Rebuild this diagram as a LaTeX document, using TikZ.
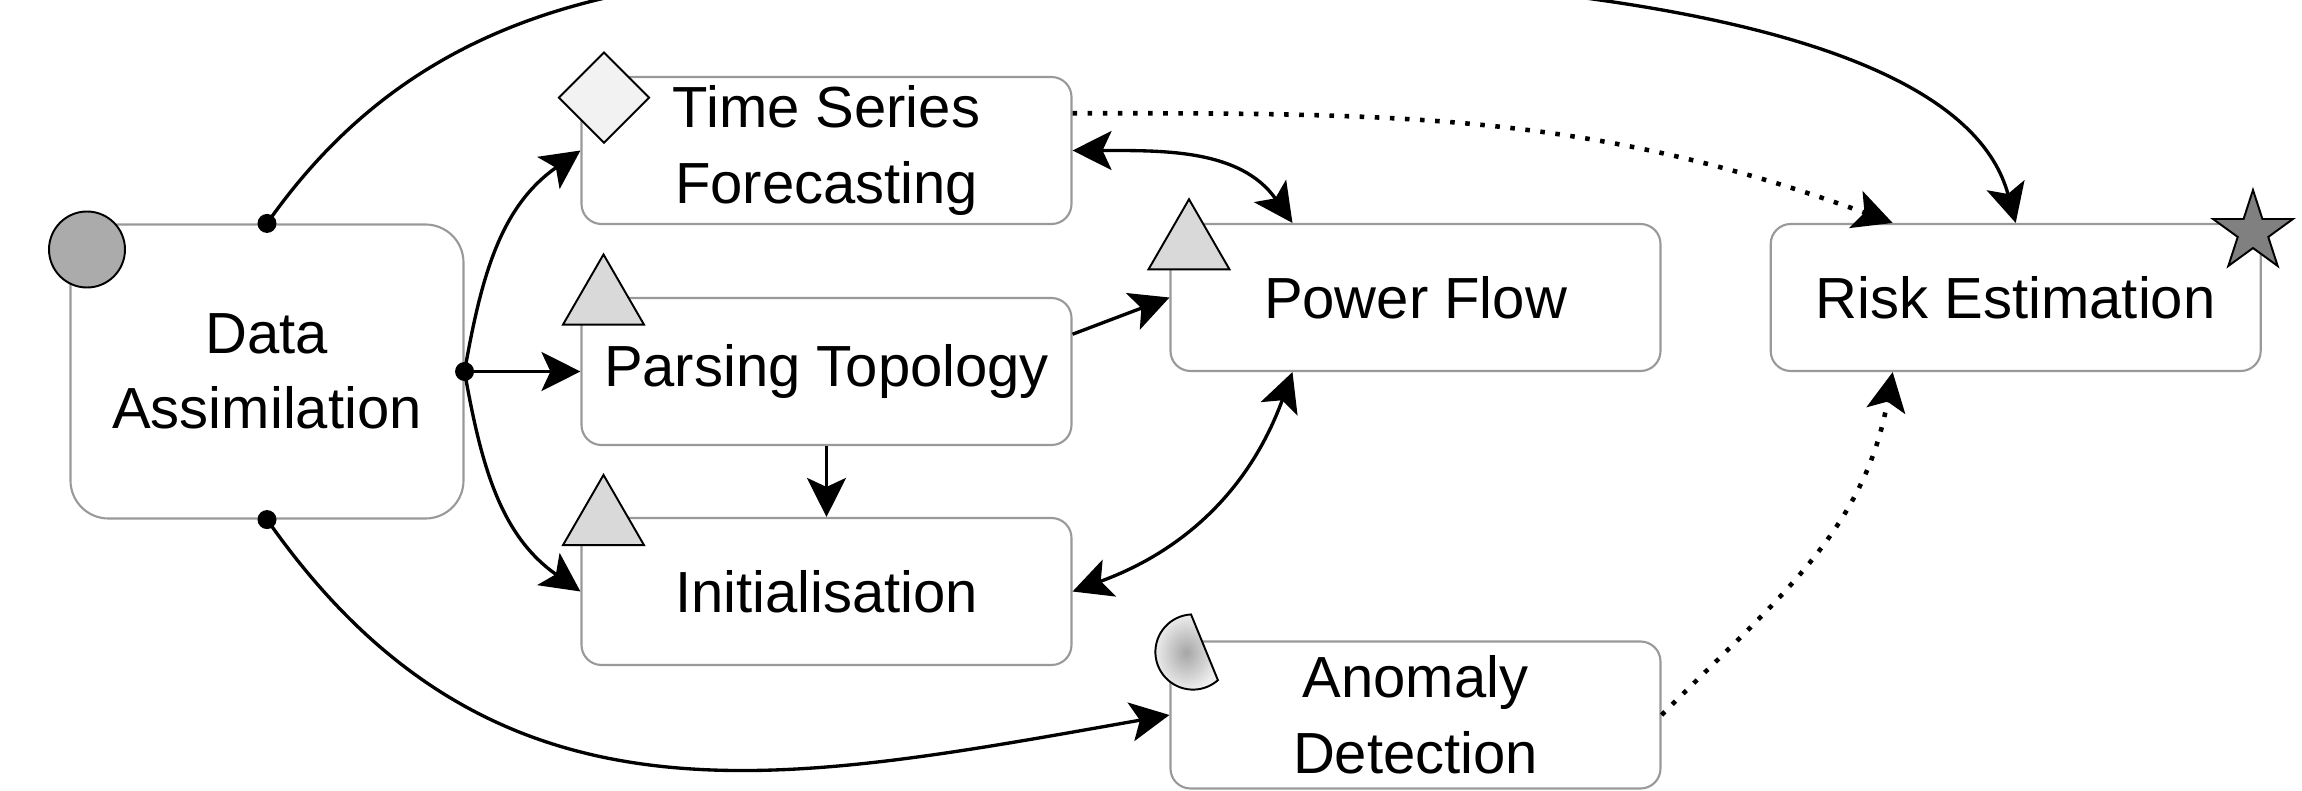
\documentclass[tikz,border=0pt]{standalone}
\usepackage{fontspec}
\setmainfont{Liberation Sans}
\usetikzlibrary{arrows.meta,calc,shapes.geometric}
\tikzset{
 >={Stealth[length=0.39cm,width=0.39cm,inset=0.09cm]},
 box/.style={draw=black!40,line width=0.6pt,rounded corners=0.2cm,
  minimum width=4.9cm,minimum height=1.47cm,align=center,inner sep=0pt,
  font=\fontsize{16.5}{21.5}\selectfont},
 flow/.style={line width=0.95pt},
 dotflow/.style={line width=1.3pt,dash pattern=on 1.3pt off 3pt},
 joint/.style={circle,fill=black,inner sep=0pt,minimum size=0.19cm},
 badge/.style={draw,line width=0.55pt,inner sep=0pt},
 tri/.style={badge,regular polygon,regular polygon sides=3,minimum size=0.935cm,fill=black!15}
}
\begin{document}
\begin{tikzpicture}
\useasboundingbox (0,0) rectangle (23.02,-7.91);

\path (2.67,-3.715) node[name=da,box,minimum width=3.93cm,minimum height=2.94cm,rounded corners=0.38cm] {Data\\Assimilation};
\path (8.265,-1.505) node[name=tsf,box] {Time Series\\Forecasting};
\path (8.265,-3.715) node[name=pt,box] {Parsing Topology};
\path (8.265,-5.915) node[name=init,box] {Initialisation};
\path (14.155,-2.975) node[name=pf,box] {Power Flow};
\path (20.157,-2.975) node[name=re,box] {Risk Estimation};
\path (14.155,-7.15) node[name=ad,box] {Anomaly\\Detection};

% markers on the boxes
\path (0.87,-2.495) node[name=dacirc,badge,circle,fill=black!33,minimum size=0.76cm] {};
\path (6.04,-0.977) node[name=tsfdia,badge,diamond,fill=black!5,minimum width=0.91cm,minimum height=0.91cm] {};
\path (6.035,-3.012) node[name=pttri,tri] {};
\path (6.035,-5.217) node[name=inittri,tri] {};
\path (11.89,-2.46) node[name=pftri,tri] {};
\path (22.53,-2.32) node[name=restar,badge,star,star points=5,star point ratio=2.618,minimum size=0.84cm,fill=black!50] {};
\path[draw,line width=0.55pt,shading=radial,inner color=black!35,outer color=black!7]
 (11.93,-6.52) ++(93:0.376) arc[start angle=93,end angle=311.5,radius=0.376] -- cycle;

\path (da.north) node[name=dan,joint] {};
\path (da.east) node[name=dae,joint] {};
\path (da.south) node[name=das,joint] {};
\coordinate (peak) at (10.8,0.3);

\draw[flow,->] (dan.center) to[out=55,in=180] (peak) to[out=0,in=105,in looseness=0.6] (re.north);

\path[flow,->] (dae.center) edge[out=80,in=215] (tsf.west);
\path[flow,->] (dae.center) edge (pt.west);
\path[flow,->] (dae.center) edge[out=-80,in=145] (init.west);
\path[flow,->] (das.center) edge[out=-55,in=190,looseness=1.1] (ad.west);

\path[flow,<->] (tsf.east) edge[out=0,in=125] ($(pf.north west)!0.25!(pf.north east)$);
\path[dotflow,->] ($(tsf.north east)!0.25!(tsf.south east)$) edge[out=0,in=160] ($(re.north west)!0.25!(re.north east)$);
\path[flow,->] ($(pt.north east)!0.25!(pt.south east)$) edge (pf.west);
\path[flow,->] (pt.south) edge (init.north);
\path[flow,<->] (init.east) edge[out=20,in=-110] ($(pf.south west)!0.25!(pf.south east)$);
\path[dotflow,->] (ad.east) edge[out=45,in=-100] ($(re.south west)!0.25!(re.south east)$);

\end{tikzpicture}
\end{document}
